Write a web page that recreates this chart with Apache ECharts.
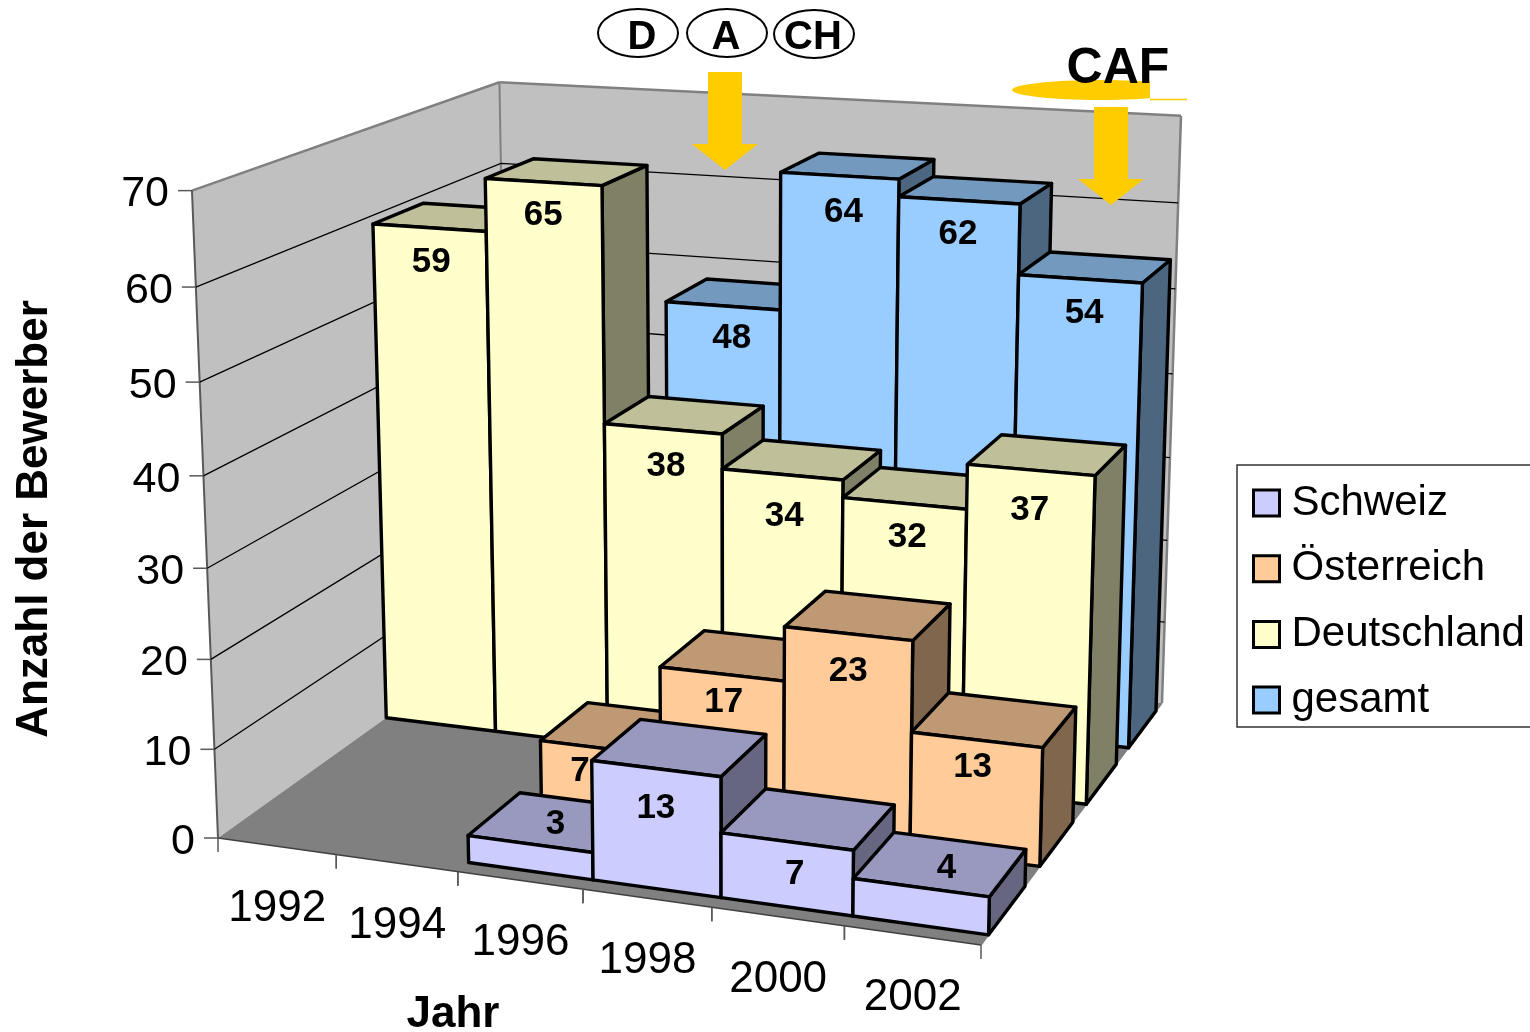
<!DOCTYPE html>
<html><head><meta charset="utf-8">
<style>html,body{margin:0;padding:0;background:#fff;overflow:hidden}#c{width:1530px;height:1032px}</style>
<script src="https://cdn.jsdelivr.net/npm/echarts@6/dist/echarts.min.js"></script>
</head><body><div id="c"></div>
<script>
var years = ['1992','1994','1996','1998','2000','2002'];
var valueTicks = [0,10,20,30,40,50,60,70];
var gesamt      = [null,null,48,64,62,54];
var deutschland = [59,65,38,34,32,37];
var oesterreich = [null,null,7,17,23,13];
var schweiz     = [null,null,3,13,7,4];

var W=1530,H=1032,FONT='"Liberation Sans",Arial,sans-serif';
function solve(A,b){var n=b.length,M=A.map(function(r,i){return r.concat([b[i]]);});
  for(var i=0;i<n;i++){var p=i;for(var k=i+1;k<n;k++)if(Math.abs(M[k][i])>Math.abs(M[p][i]))p=k;
    var t=M[i];M[i]=M[p];M[p]=t;
    for(var k=i+1;k<n;k++){var f=M[k][i]/M[i][i];for(var j=i;j<=n;j++)M[k][j]-=f*M[i][j];}}
  var x=new Array(n);for(var i=n-1;i>=0;i--){var s=M[i][n];for(var j=i+1;j<n;j++)s-=M[i][j]*x[j];x[i]=s/M[i][i];}return x;}
// chart box geometry: floor corners and wall tops of the 3D view
var floorCorners=[[0,0,218,838],[6,0,981,945],[6,1,1162,703],[0,1,509,630]];
var topCorners=[[0,0,190,191],[0,1,502,80],[6,1,1180,118]];
var A8=[],b8=[];floorCorners.forEach(function(c){var u=c[0],v=c[1],x=c[2],y=c[3];
  A8.push([u,v,1,0,0,0,-u*x,-v*x]);b8.push(x);A8.push([0,0,0,u,v,1,-u*y,-v*y]);b8.push(y);});
var h=solve(A8,b8);
function base(u,v){return [h[0]*u+h[1]*v+h[2],h[3]*u+h[4]*v+h[5],h[6]*u+h[7]*v+1];}
var R=[],Rb=[];topCorners.forEach(function(c){var B=base(c[0],c[1]);
  R.push([70,0,-c[2]*70]);Rb.push(c[2]*B[2]-B[0]);R.push([0,70,-c[3]*70]);Rb.push(c[3]*B[2]-B[1]);});
var NA=[[0,0,0],[0,0,0],[0,0,0]],Nb=[0,0,0];
R.forEach(function(r,i){for(var a=0;a<3;a++){Nb[a]+=r[a]*Rb[i];for(var d=0;d<3;d++)NA[a][d]+=r[a]*r[d];}});
var V=solve(NA,Nb);
function proj(u,v,y){var B=base(u,v),w=B[2]+y*V[2];return [(B[0]+y*V[0])/w,(B[1]+y*V[1])/w];}
// read the axis scales: pixel in hidden full-page grid -> category units / value units
function uOf(p){return p[0]/W*6;}
function yOf(p){return 70*(1-p[1]/H);}

var ROWS=4,ROW_FRONT=0.035,ROW_DEPTH=0.175;
function rowV(r){return [r/ROWS+ROW_FRONT, r/ROWS+ROW_FRONT+ROW_DEPTH];}
function barCorners(api,row){
  var c=api.value(0),val=api.value(1);
  var a=api.coord([c,0]),t=api.coord([c,val]),bw=api.size([1,0])[0];
  var u0=uOf([a[0]-bw/2,0]),u1=uOf([a[0]+bw/2,0]),y=yOf(t),v=rowV(row);
  return {u0:u0,u1:u1,y:y,v0:v[0],v1:v[1]};
}
function makeBarSeries(name,values,row,col,topCol,sideCol,z){
  var data=[];values.forEach(function(x,i){if(x!=null)data.push([i,x]);});
  return {name:name,type:'custom',coordinateSystem:'cartesian2d',data:data,z:z,clip:false,silent:true,
    itemStyle:{color:col},encode:{x:0,y:1},
    renderItem:function(p,api){
      var b=barCorners(api,row),st=function(f){return {fill:f,stroke:'#000',lineWidth:3.4,lineJoin:'round'};};
      var poly=function(pts,f){return {type:'polygon',shape:{points:pts},style:st(f)};};
      return {type:'group',children:[
        poly([proj(b.u1,b.v0,0),proj(b.u1,b.v1,0),proj(b.u1,b.v1,b.y),proj(b.u1,b.v0,b.y)],sideCol),
        poly([proj(b.u0,b.v0,b.y),proj(b.u1,b.v0,b.y),proj(b.u1,b.v1,b.y),proj(b.u0,b.v1,b.y)],topCol),
        poly([proj(b.u0,b.v0,0),proj(b.u1,b.v0,0),proj(b.u1,b.v0,b.y),proj(b.u0,b.v0,b.y)],col)
      ]};
    }};
}
// Hand placement of the data labels (row:category), as the source chart moved them
var labelNudge={
  '3:2':[9,3],'3:3':[4,7],'3:4':[-1,4],'3:5':[4,4],
  '2:0':[2,5],'2:1':[0,3],'2:2':[3,8],'2:3':[2,12],'2:4':[3,4],'2:5':[-1,10],
  '1:2':[-20,-7],'1:3':[2,-2],'1:4':[0,8],'1:5':[-4,-3],
  '0:2':[0,2],'0:3':[0,10],'0:4':[8,3],'0:5':[6,5]};
function makeLabelSeries(){
  var data=[];[[schweiz,0],[oesterreich,1],[deutschland,2],[gesamt,3]].forEach(function(s){
    s[0].forEach(function(x,i){if(x!=null)data.push([i,x,s[1]]);});});
  return {type:'custom',name:'labels',coordinateSystem:'cartesian2d',data:data,z:20,clip:false,silent:true,encode:{x:0,y:1},
    renderItem:function(p,api){
      var row=api.value(2),val=api.value(1),b=barCorners(api,row),um=(b.u0+b.u1)/2,pt;
      if(val<5){pt=proj(um,(b.v0+b.v1)/2,b.y);}
      else{pt=proj(um,b.v0,b.y);pt=[pt[0],pt[1]+30];}
      var n=labelNudge[row+':'+api.value(0)]||[0,0];
      return {type:'text',style:{x:pt[0]+n[0],y:pt[1]+n[1],text:String(val),font:'bold 35px '+FONT,fill:'#000',align:'center',verticalAlign:'middle'}};
    }};
}
var wallsSeries={type:'custom',name:'walls',coordinateSystem:'cartesian2d',data:[[0,70]],z:0,clip:false,silent:true,encode:{x:0,y:1},
  renderItem:function(p,api){
    var top=yOf(api.coord([0,70])),g=function(pts,f){return {type:'polygon',shape:{points:pts},style:{fill:f,stroke:null}};};
    var edge=function(a,b,col,w){return {type:'line',shape:{x1:a[0],y1:a[1],x2:b[0],y2:b[1]},style:{stroke:col,lineWidth:w}};};
    return {type:'group',children:[
      g([proj(0,0,0),proj(0,1,0),proj(0,1,top),proj(0,0,top)],'#C0C0C0'),
      g([proj(0,1,0),proj(6,1,0),proj(6,1,top),proj(0,1,top)],'#C0C0C0'),
      g([proj(0,0,0),proj(6,0,0),proj(6,1,0),proj(0,1,0)],'#808080'),
      edge(proj(0,0,top),proj(0,1,top),'#808080',2.5),
      edge(proj(0,1,top),proj(6,1,top),'#808080',2.5),
      edge(proj(6,1,top),proj(6,1,0),'#808080',2.5),
      edge(proj(0,1,top),proj(0,1,0),'#808080',2),
      edge(proj(0,0,0),proj(0,0,top),'#595959',2),
      edge(proj(0,0,0),proj(6,0,0),'#404040',1.5),
      edge(proj(6,0,0),proj(6,1,0),'#808080',1.5)
    ]};
  }};
var valueAxisSeries={type:'custom',name:'valueAxis',coordinateSystem:'cartesian2d',data:valueTicks.map(function(v){return [0,v];}),z:1,clip:false,silent:true,encode:{x:0,y:1},
  renderItem:function(p,api){
    var y=yOf(api.coord([0,api.value(1)])),a=proj(0,0,y),b=proj(0,1,y),c=proj(6,1,y),kids=[];
    if(y>0&&y<70){kids.push({type:'polyline',shape:{points:[a,b,c]},style:{fill:null,stroke:'#000',lineWidth:1.3}});}
    kids.push({type:'line',shape:{x1:a[0]-14,y1:a[1],x2:a[0],y2:a[1]},style:{stroke:'#595959',lineWidth:1.5}});
    kids.push({type:'text',style:{x:a[0]-23,y:a[1]+4,text:String(api.value(1)),font:'43px '+FONT,fill:'#000',align:'right',verticalAlign:'middle'}});
    return {type:'group',children:kids};
  }};
var catAxisSeries={type:'custom',name:'catAxis',coordinateSystem:'cartesian2d',data:years.map(function(y,i){return [i,0];}),z:1,clip:false,silent:true,encode:{x:0,y:1},
  renderItem:function(p,api){
    var i=api.value(0),a=api.coord([i,0]),bw=api.size([1,0])[0],u0=uOf([a[0]-bw/2,0]),u1=uOf([a[0]+bw/2,0]);
    var t0=proj(u0,0,0),t1=proj(u1,0,0),m=proj((u0+u1)/2,0,0);
    var tick=function(t){return {type:'line',shape:{x1:t[0],y1:t[1],x2:t[0],y2:t[1]+14},style:{stroke:'#595959',lineWidth:1.5}};};
    return {type:'group',children:[tick(t0),tick(t1),
      {type:'text',style:{x:m[0]+0.5,y:m[1]+63,text:years[i],font:'44px '+FONT,fill:'#000',align:'center',verticalAlign:'middle'}}]};
  }};
var YEL='#FFCC00';
function arrow(x0,x1,yTop,yNeck,xl,xr,tipY){return {type:'polygon',z:30,shape:{points:[[x0,yTop],[x1,yTop],[x1,yNeck],[xr,yNeck],[(xl+xr)/2,tipY],[xl,yNeck],[x0,yNeck]]},style:{fill:YEL}};}
function oval(cx,cy,rx,ry){return {type:'ellipse',z:30,shape:{cx:cx,cy:cy,rx:rx,ry:ry},style:{fill:'#fff',stroke:'#000',lineWidth:2}};}
function label(x,y,t,f,rot){return {type:'text',z:31,x:x,y:y,rotation:rot||0,style:{x:0,y:0,text:t,font:f,fill:'#000',align:'center',verticalAlign:'middle'}};}
var chart=echarts.init(document.getElementById('c'),null,{renderer:'canvas',width:W,height:H});
chart.setOption({
  animation:false,backgroundColor:'#fff',
  grid:{left:0,top:0,width:W,height:H},
  xAxis:{type:'category',data:years,show:false,boundaryGap:true},
  yAxis:{type:'value',min:0,max:70,interval:10,show:false},
  legend:{left:1237,top:465,orient:'vertical',itemWidth:26,itemHeight:26,itemGap:21.7,padding:[16,10,5,15],
    borderColor:'#333',borderWidth:1.5,backgroundColor:'#fff',selectedMode:false,
    textStyle:{fontFamily:'Liberation Sans',fontSize:42,lineHeight:44,color:'#000',padding:[0,0,0,7]},
    data:[['Schweiz','#CCCCFF'],['Österreich','#FFCC99'],['Deutschland','#FFFFCC'],['gesamt','#99CCFF']].map(function(d){
      return {name:d[0],icon:'rect',itemStyle:{color:d[1],borderColor:'#000',borderWidth:3}};})},
  series:[wallsSeries,valueAxisSeries,catAxisSeries,
    makeBarSeries('gesamt',gesamt,3,'#99CCFF','#7399BF','#4D6680',2),
    makeBarSeries('Deutschland',deutschland,2,'#FFFFCC','#BFBF99','#808066',3),
    makeBarSeries('Österreich',oesterreich,1,'#FFCC99','#BF9973','#80664D',4),
    makeBarSeries('Schweiz',schweiz,0,'#CCCCFF','#9999BF','#666680',5),
    makeLabelSeries()],
  graphic:{elements:[
    oval(638,33,40,24),oval(727,33,40,24),oval(814,34,40,24),
    label(642,38,'D','bold 40px '+FONT),label(726,38,'A','bold 40px '+FONT),label(813,38,'CH','bold 40px '+FONT),
    arrow(708,742,72,144,692,758,170),
    arrow(1094,1128,107,179,1078,1144,205),
    {type:'ellipse',z:29,shape:{cx:1100,cy:90,rx:88,ry:10},style:{fill:YEL}},
    {type:'rect',z:29,shape:{x:1150,y:78,width:45,height:20},style:{fill:'#fff'}},
    {type:'line',z:29,shape:{x1:1150,y1:99.5,x2:1187,y2:99.5},style:{stroke:YEL,lineWidth:1.5}},
    label(1118,69,'CAF','bold 50px '+FONT),
    label(35,519,'Anzahl der Bewerber','bold 44px '+FONT,Math.PI/2),
    label(453,1015,'Jahr','bold 44px '+FONT)
  ]}
});
</script></body></html>
